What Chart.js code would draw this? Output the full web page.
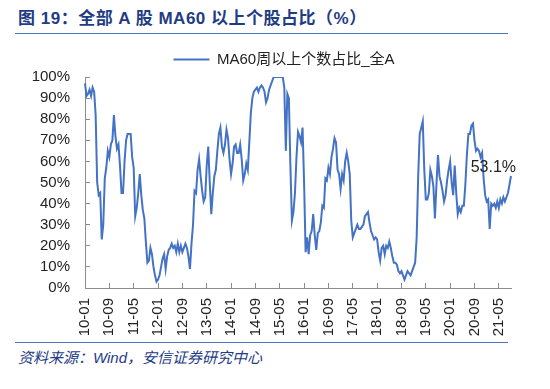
<!DOCTYPE html>
<html>
<head>
<meta charset="utf-8">
<script src="https://cdn.jsdelivr.net/npm/chart.js@4.4.0/dist/chart.umd.min.js"></script>
<style>
  body { margin: 0; width: 550px; height: 389px; background: #fff; position: relative; overflow: hidden;
         font-family: "Liberation Sans", Arial, "Noto Sans CJK SC", sans-serif; }
  #title { position: absolute; left: 15px; top: 8px; width: 493px; height: 26px; box-sizing: border-box;
           border-bottom: 1px solid #4a76c0; padding-left: 3px; line-height: 22px; letter-spacing: 0.5px;
           font-size: 17px; font-weight: bold; color: #1f3c85; }
  #wrap { position: absolute; left: 0; top: 40px; width: 550px; height: 300px; }
  #source { position: absolute; left: 15px; top: 342px; width: 493px; box-sizing: border-box;
            border-top: 1px solid #4a76c0; padding: 5px 0 0 3px; line-height: 20px;
            font-size: 15px; font-style: italic; color: #1f3c85; }
</style>
</head>
<body>
<div id="title">图 19：全部 A 股 MA60 以上个股占比（%）</div>
<div id="wrap"><canvas id="chart" width="550" height="300"></canvas></div>
<div id="source">资料来源：Wind，安信证券研究中心</div>
<script>
// 半月一個點，2010-01 起
const seriesName = "MA60周以上个数占比_全A";
const tickLabels = ["10-01", "10-09", "11-05", "12-01", "12-09", "13-05", "14-01", "14-09", "15-05",
                    "16-01", "16-09", "17-05", "18-01", "18-09", "19-05", "20-01", "20-09", "21-05"];
const startYear = 2010;
const tickEvery = 16; // 8 個月一個刻度
const lastLabel = "53.1%";

const values = [
  97, 91, 92, 94, 91, 95, 93, 82, 50, 44,
  45, 23, 30, 52, 57, 65, 62, 68, 70, 82,
  72, 66, 68, 58, 45, 45, 60, 70, 73, 73,
  73, 62, 57, 34, 38, 45, 54, 44, 37, 33,
  22, 12, 13, 19, 16, 10, 6, 3, 4, 6,
  10, 14, 16, 9, 15, 18,
  19, 21, 19, 20, 17, 21, 17, 20, 17, 19,
  21, 19, 15, 9, 21, 30, 46, 45, 56, 61,
  53, 46, 41, 43, 58, 67, 50, 35, 45, 53,
  56, 65, 73, 76, 67, 64, 68, 75, 71, 61,
  54, 59, 67, 68, 64, 64, 68, 61, 51, 54,
  59, 56, 69, 83, 90, 93,
  94, 95, 93, 95, 96, 95, 93, 88, 90,
  94, 96, 98, 100, 100, 100, 100, 100, 100, 100,
  95, 65, 92, 90, 58, 32, 36, 45, 62, 74,
  72, 69, 76, 50, 17, 24, 16, 25, 27, 35,
  25, 18, 26, 27, 31, 39, 38, 52, 51, 57,
  54, 62, 66, 71, 69, 56,
  54, 47, 54, 51, 60, 64, 60, 54, 32, 24,
  26, 28, 30, 28, 28, 29, 30, 34, 35, 36,
  31, 27, 25, 23, 24, 23, 17, 13, 19, 20,
  16, 20, 19, 22, 19, 15, 12, 12, 11, 8,
  7, 8, 6, 4, 6, 8, 7, 6, 8, 10,
  12, 24, 53, 73, 76, 79,
  56, 42, 42, 45, 56, 53, 48, 33, 49, 63,
  53, 50, 46, 41, 44, 51, 56, 60, 50, 44,
  58, 45, 35, 38, 36, 39, 39, 49, 63, 73,
  73, 77, 78, 70, 65, 66, 65, 62, 64, 52,
  44, 41, 42, 28, 40, 39, 40, 38, 41, 38,
  42, 40, 43, 41, 43, 45, 49, 53.1
];

const categories = values.map((v, i) => {
  const m = Math.floor(i / 2);
  const yy = String((startYear + Math.floor(m / 12)) % 100).padStart(2, "0");
  const mm = String(m % 12 + 1).padStart(2, "0");
  return yy + "-" + mm;
});

const lineColor = "#4472C4";
const axisColor = "#8c8c8c";
const textColor = "#222";
const fontFamily = '"Liberation Sans", Arial, "Noto Sans CJK SC", sans-serif';
Chart.defaults.font.family = fontFamily;

// 最後一點的數值標籤
const endLabel = {
  id: "endLabel",
  afterDatasetsDraw(chart) {
    const pts = chart.getDatasetMeta(0).data;
    const p = pts[pts.length - 1];
    const ctx = chart.ctx;
    ctx.save();
    ctx.font = "16px " + fontFamily;
    ctx.fillStyle = textColor;
    ctx.textAlign = "right";
    ctx.textBaseline = "middle";
    ctx.fillText(lastLabel, p.x + 5, p.y - 8);
    ctx.restore();
  }
};

// 圖例略往左移
const legendShift = {
  id: "legendShift",
  afterLayout(chart) {
    chart.legend.left -= 14;
    chart.legend.right -= 14;
  }
};

new Chart(document.getElementById("chart"), {
  type: "line",
  data: {
    labels: categories,
    datasets: [{
      label: seriesName,
      data: values,
      borderColor: lineColor,
      backgroundColor: lineColor,
      borderWidth: 2,
      pointRadius: 0,
      tension: 0,
      fill: false
    }]
  },
  options: {
    responsive: false,
    animation: false,
    devicePixelRatio: 1,
    layout: { padding: { top: 2, right: 39, left: 0, bottom: 0 } },
    plugins: {
      tooltip: { enabled: false },
      legend: {
        position: "top",
        fullSize: false,
        labels: {
          boxWidth: 36,
          boxHeight: 2,
          color: textColor,
          font: { size: 15 },
          generateLabels: (chart) => Chart.defaults.plugins.legend.labels.generateLabels(chart)
            .map(l => Object.assign(l, { fillStyle: lineColor, lineWidth: 0 }))
        }
      }
    },
    scales: {
      x: {
        type: "category",
        offset: false,
        grid: { drawOnChartArea: false, tickLength: -5, color: axisColor },
        border: { color: axisColor },
        ticks: {
          autoSkip: false,
          maxRotation: 90,
          minRotation: 90,
          padding: 15,
          color: textColor,
          font: { size: 15 },
          callback: (v) => tickLabels[v / tickEvery]
        },
        afterBuildTicks: (s) => { s.ticks = s.ticks.filter(t => t.value % tickEvery === 0); },
        afterFit: (s) => { s.height = 52; }
      },
      y: {
        min: 0,
        max: 100,
        grid: { drawOnChartArea: false, tickLength: -5, color: axisColor },
        border: { color: axisColor },
        ticks: {
          stepSize: 10,
          padding: 20,
          color: textColor,
          font: { size: 15 },
          callback: (v) => v + "%"
        },
        afterFit: (s) => { s.width = 85; }
      }
    }
  },
  plugins: [endLabel, legendShift]
});
</script>
</body>
</html>
